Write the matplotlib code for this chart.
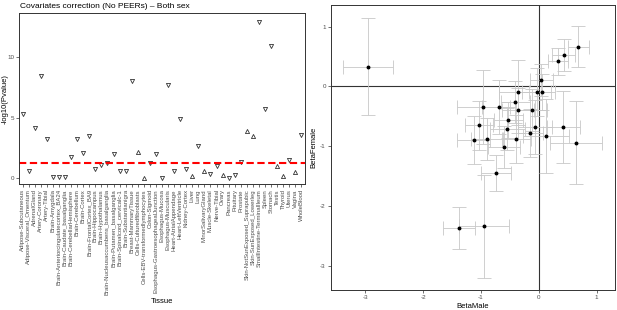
import matplotlib
matplotlib.use("Agg")
import matplotlib.pyplot as plt
import numpy as np

plt.rcParams['font.family'] = ['Liberation Sans', 'DejaVu Sans']
plt.rcParams['axes.unicode_minus'] = False

# ---------------- data: left panel ----------------
tissues = [
    "Adipose-Subcutaneous", "Adipose-Visceral_Omentum", "AdrenalGland",
    "Artery-Coronary", "Artery-Tibial", "Brain-Amygdala",
    "Brain-Anteriorcingulatecortex_BA24", "Brain-Caudate_basalganglia",
    "Brain-CerebellarHemisphere", "Brain-Cerebellum", "Brain-Cortex",
    "Brain-FrontalCortex_BA9", "Brain-Hippocampus", "Brain-Hypothalamus",
    "Brain-Nucleusaccumbens_basalganglia", "Brain-Putamen_basalganglia",
    "Brain-Spinalcord_cervicalc-1", "Brain-Substantianigra",
    "Breast-MammaryTissue", "Cells-Culturedfibroblasts",
    "Cells-EBV-transformedlymphocytes", "Colon-Sigmoid",
    "Esophagus-GastroesophagealJunction", "Esophagus-Mucosa",
    "Esophagus-Muscularis", "Heart-AtrialAppendage", "Heart-LeftVentricle",
    "Kidney-Cortex", "Liver", "Lung", "MinorSalivaryGland", "Muscle-Skeletal",
    "Nerve-Tibial", "Ovary", "Pancreas", "Pituitary", "Prostate",
    "Skin-NotSunExposed_Suprapubic", "Skin-SunExposed_Lowerleg",
    "SmallIntestine-TerminalIleum", "Spleen", "Stomach", "Testis", "Thyroid",
    "Uterus", "Vagina", "WholeBlood",
]
neglog10p = [5.3, 0.63, 4.19, 8.47, 3.28, 0.08, 0.08, 0.13, 1.79, 3.23,
             2.12, 3.48, 0.77, 1.08, 1.24, 1.99, 0.58, 0.63, 8.08, 2.18,
             0.05, 1.25, 1.99, 0.06, 7.71, 0.63, 4.94, 0.77, 0.16, 2.70,
             0.60, 0.33, 1.04, 0.27, 0.05, 0.27, 1.35, 3.92, 3.50, 12.96,
             5.74, 10.95, 1.04, 0.19, 1.49, 0.55, 3.58]
direction = ["down", "down", "down", "down", "down", "down", "down", "down",
             "down", "down", "down", "down", "down", "down", "down", "down",
             "down", "down", "down", "up", "up", "down", "down", "down",
             "down", "down", "down", "down", "up", "down", "up", "down",
             "down", "up", "down", "down", "down", "up", "up", "down",
             "down", "down", "up", "up", "down", "up", "down"]
threshold_p = 0.05

# ---------------- data: right panel ----------------
beta_male = [-2.96, 0.685, 0.433, 0.339, 0.045, -0.035, 0.057, -0.353,
             -0.405, -0.958, -0.687, -0.363, -0.11, -0.526, -1.033, -0.543,
             -0.064, 0.426, -0.145, -0.388, -0.894, -1.125, 0.121, -0.606,
             0.651, -0.744, -1.384, -0.946]
beta_female = [0.33, 0.663, 0.519, 0.418, 0.105, -0.09, -0.095, -0.10,
               -0.263, -0.352, -0.352, -0.402, -0.402, -0.569, -0.648,
               -0.709, -0.681, -0.681, -0.782, -0.876, -0.882, -0.904,
               -0.832, -1.021, -0.944, -1.456, -2.377, -2.343]
male_err = [0.43, 0.18, 0.20, 0.17, 0.20, 0.25, 0.22, 0.33, 0.25, 0.46,
            0.30, 0.28, 0.25, 0.25, 0.25, 0.30, 0.30, 0.29, 0.22, 0.25,
            0.28, 0.29, 0.40, 0.28, 0.45, 0.26, 0.28, 0.44]
female_err = [0.81, 0.34, 0.27, 0.23, 0.27, 0.40, 0.30, 0.54, 0.35, 0.62,
              0.45, 0.38, 0.35, 0.30, 0.41, 0.35, 0.45, 0.60, 0.40, 0.40,
              0.35, 0.40, 0.62, 0.35, 0.69, 0.30, 0.35, 0.86]

# ---------------- figure ----------------
fig = plt.figure(figsize=(6.17, 3.10), dpi=100)
W, H = 617, 310

def add_ax(l, t, r, b):
    return fig.add_axes([l / W, 1 - b / H, (r - l) / W, (b - t) / H])

tick_col = '#4D4D4D'
frame_col = '#333333'

def style(ax):
    for s in ax.spines.values():
        s.set_color(frame_col)
        s.set_linewidth(0.7)
    ax.tick_params(axis='both', length=2, width=0.5, color='#333333',
                   labelsize=4.5, labelcolor=tick_col, pad=1.5)

# left panel
ax1 = add_ax(19, 13.3, 305, 184.3)
style(ax1)
xs = np.arange(len(tissues))
vals = np.array(neglog10p)
dirs = np.array(direction)
up = dirs == "up"
ax1.plot(xs[~up], vals[~up], linestyle='none', marker='v', ms=3.0,
         mfc='none', mec='#333333', mew=0.6)
ax1.plot(xs[up], vals[up], linestyle='none', marker='^', ms=3.0,
         mfc='none', mec='#333333', mew=0.6)
ax1.axhline(-np.log10(threshold_p), color='#FF0000', lw=1.5,
            linestyle=(0, (3.5, 1.7)))
ax1.set_xlim(-0.6, len(tissues) - 0.4)
ax1.set_ylim(-0.5, 13.66)
ax1.set_yticks([0, 5, 10])
ax1.set_xticks(xs)
ax1.set_xticklabels(tissues, rotation=90, fontsize=4.3, color=tick_col)
ax1.set_xlabel("Tissue", fontsize=5.5, labelpad=2)
fig.text(5.5 / W, 1 - 99 / H, "-log10(Pvalue)", fontsize=5.5, rotation=90,
         ha='center', va='center')
fig.text(20 / W, 1 - 6.5 / H, "Covariates correction (No PEERs) \u2013 Both sex",
         fontsize=6, ha='left', va='center')

# right panel
ax2 = add_ax(330.7, 4.7, 615.3, 290)
style(ax2)
ax2.axhline(0, color='#333333', lw=0.8, zorder=1)
ax2.axvline(0, color='#333333', lw=0.8, zorder=1)
ax2.errorbar(beta_male, beta_female, xerr=male_err, yerr=female_err,
             fmt='none', ecolor='#C8C8C8', elinewidth=0.6, capsize=5,
             capthick=0.6, zorder=2)
ax2.plot(beta_male, beta_female, linestyle='none', marker='o', ms=1.8,
         color='black', zorder=3)
ax2.set_xlim(-3.6, 1.325)
ax2.set_ylim(-3.41, 1.366)
ax2.set_xticks([-3, -2, -1, 0, 1])
ax2.set_yticks([-3, -2, -1, 0, 1])
ax2.set_xlabel("BetaMale", fontsize=5.5, labelpad=2)
ax2.set_ylabel("BetaFemale", fontsize=5.5, labelpad=2)

fig.savefig("out.png", dpi=100)
